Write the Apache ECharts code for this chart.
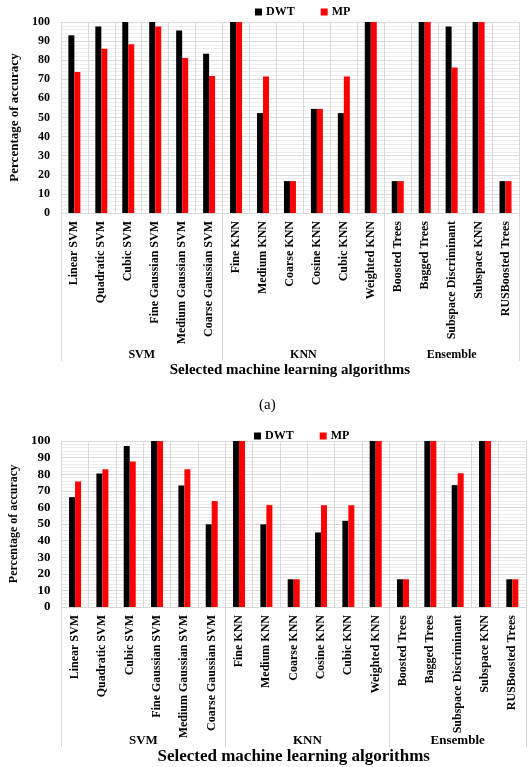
<!DOCTYPE html>
<html>
<head>
<meta charset="utf-8">
<script src="https://cdn.jsdelivr.net/npm/echarts@6/dist/echarts.min.js"></script>
<style>
html,body{margin:0;padding:0;background:#fff;}
#chart{width:531px;height:767px;}
</style>
</head>
<body>
<div id="chart"></div>
<script>
// ---- data ----
var categories = ['Linear SVM','Quadratic SVM','Cubic SVM','Fine Gaussian SVM','Medium Gaussian SVM','Coarse Gaussian SVM',
  'Fine KNN','Medium KNN','Coarse KNN','Cosine KNN','Cubic KNN','Weighted KNN',
  'Boosted Trees','Bagged Trees','Subspace Discriminant','Subspace KNN','RUSBoosted Trees'];
var groupNames = ['SVM','KNN','Ensemble'];
var groupSizes = [6, 6, 5];
var seriesNames = ['DWT','MP'];
var dwtA = [93.0, 97.7, 100, 100, 95.5, 83.4, 100, 52.3, 16.7, 54.5, 52.3, 100, 16.7, 100, 97.7, 100, 16.7];
var mpA  = [73.8, 86.0, 88.3, 97.7, 81.1, 71.7, 100, 71.5, 16.7, 54.5, 71.5, 100, 16.7, 100, 76.2, 100, 16.7];
var dwtB = [66.2, 80.4, 97.0, 100, 73.2, 49.8, 100, 49.8, 16.7, 44.9, 51.9, 100, 16.7, 100, 73.4, 100, 16.7];
var mpB  = [75.6, 83.0, 87.6, 100, 83.0, 63.8, 100, 61.4, 16.7, 61.3, 61.3, 100, 16.7, 100, 80.6, 100, 16.7];
var yTicks = [0,10,20,30,40,50,60,70,80,90,100];

// ---- derived group positions ----
var groupBounds = [0];
var groupCenters = [];
groupSizes.forEach(function(s){
  var start = groupBounds[groupBounds.length-1];
  groupCenters.push(start + s/2);
  groupBounds.push(start + s);
});
var nCat = categories.length;

var FONT = '"Liberation Serif", "Times New Roman", serif';
var GRID_C = '#d9d9d9';

function catAxis(gi, fs){
  return {
    type:'category', gridIndex:gi, data:categories, boundaryGap:true,
    axisLine:{show:true, lineStyle:{color:GRID_C}},
    axisTick:{show:false},
    splitLine:{show:true, interval:0, lineStyle:{color:GRID_C, width:1}},
    axisLabel:{rotate:90, interval:0, margin:8, fontFamily:FONT, fontWeight:'bold', fontSize:fs, color:'#000'}
  };
}
function groupAxis(gi, tickLen, labMargin, labFs, nameFs, nameGap){
  return {
    type:'value', gridIndex:gi, min:0, max:nCat, position:'bottom',
    axisLine:{show:false},
    splitLine:{show:false},
    axisTick:{show:true, customValues:groupBounds, length:tickLen, lineStyle:{color:GRID_C}},
    axisLabel:{show:true, customValues:groupCenters, margin:labMargin, fontFamily:FONT, fontWeight:'bold', fontSize:labFs, color:'#000',
      formatter:function(v){ var i = groupCenters.indexOf(v); return i>=0 ? groupNames[i] : ''; }},
    name:'Selected machine learning algorithms', nameLocation:'middle', nameGap:nameGap,
    nameTextStyle:{fontFamily:FONT, fontWeight:'bold', fontSize:nameFs, color:'#000'}
  };
}
function valAxis(gi, fs, nameFs, nameGap){
  return {
    type:'value', gridIndex:gi, min:0, max:100, interval:10,
    axisLine:{show:false}, axisTick:{show:false},
    axisLabel:{margin:11, fontFamily:FONT, fontWeight:'bold', fontSize:fs, color:'#000',
      customValues: yTicks},
    splitLine:{show:true, lineStyle:{color:GRID_C}},
    minorTick:{show:false, splitNumber:5},
    minorSplitLine:{show:true, lineStyle:{color:'#ececec'}},
    name:'Percentage of accuracy', nameLocation:'middle', nameGap:nameGap, nameRotate:90,
    nameTextStyle:{fontFamily:FONT, fontWeight:'bold', fontSize:nameFs, color:'#000'}
  };
}
function bar(name, data, xi, yi, color){
  return {type:'bar', name:name, data:data, xAxisIndex:xi, yAxisIndex:yi, barWidth:6, barGap:'0%',
    itemStyle:{color:color}, silent:true};
}
function legend(left, top){
  return {left:left, top:top, data:seriesNames, icon:'rect', itemWidth:7, itemHeight:7, itemGap:26,
    textStyle:{fontFamily:FONT, fontWeight:'bold', fontSize:12, color:'#000', padding:[0,0,0,-1]}};
}

var chart = echarts.init(document.getElementById('chart'), null, {renderer:'canvas'});
chart.setOption({
  animation:false,
  backgroundColor:'#fff',
  title:[{text:'(a)', left:254, top:393, textStyle:{fontFamily:FONT, fontWeight:'normal', fontSize:15, color:'#000'}}],
  legend:[legend(250, 1), legend(249, 425)],
  grid:[
    {left:53, right:12, top:22, height:191},
    {left:52, right:5, top:441, height:166}
  ],
  xAxis:[
    catAxis(0, 12), groupAxis(0, 148, 136, 12, 15, 150),
    catAxis(1, 12), groupAxis(1, 140, 127, 13, 17, 135)
  ],
  yAxis:[valAxis(0, 12, 13, 32), valAxis(1, 13, 12, 36)],
  series:[
    bar(seriesNames[0], dwtA, 0, 0, '#000000'),
    bar(seriesNames[1], mpA, 0, 0, '#ff0000'),
    bar(seriesNames[0], dwtB, 2, 1, '#000000'),
    bar(seriesNames[1], mpB, 2, 1, '#ff0000')
  ]
});
</script>
</body>
</html>
